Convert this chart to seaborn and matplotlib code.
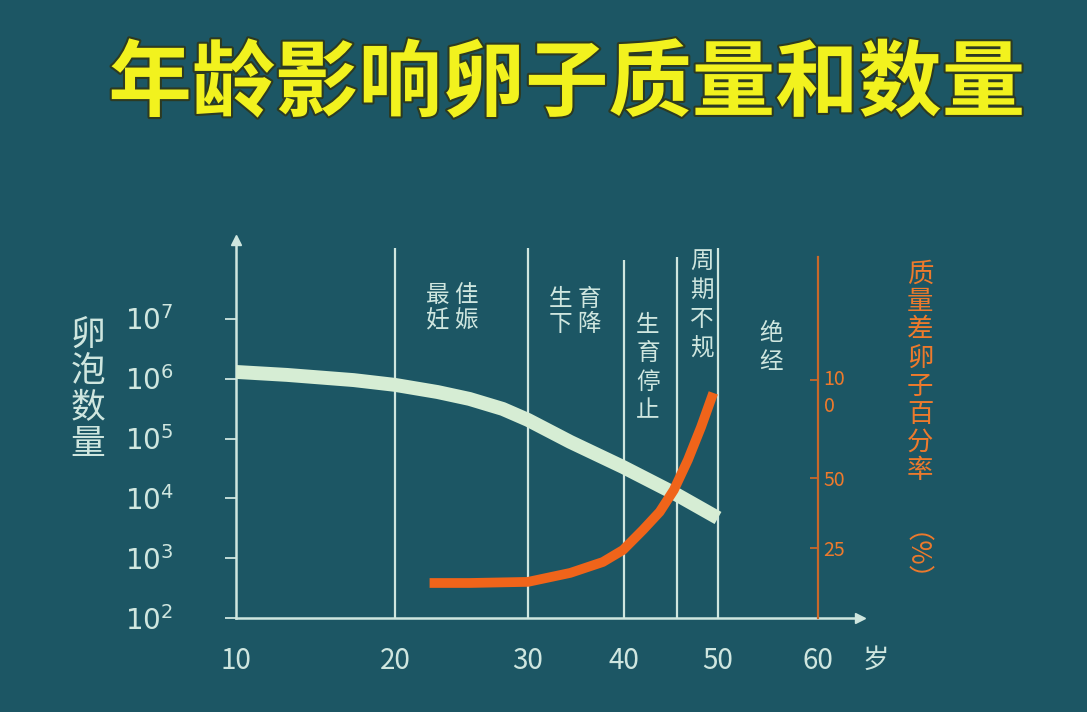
import numpy as np
import pandas as pd
import matplotlib
matplotlib.use("Agg")
import matplotlib.pyplot as plt
import matplotlib.patheffects as pe
import seaborn as sns

# follicle count (left, log axis) by age
follicle_age = [10, 13.2, 17.4, 20, 23.2, 25.6, 28.1, 30, 34.4, 39.9, 45.3, 50]
follicle_count = [1.30e6, 1.16e6, 9.5e5, 7.9e5, 6.0e5, 4.6e5, 3.13e5, 2.05e5,
                  8.8e4, 3.35e4, 1.23e4, 4.7e3]

# percentage of poor-quality eggs (right axis) by age
poor_age = [22.6, 25.6, 30, 34.4, 37.8, 39.9, 42.0, 43.8, 45.3, 46.8, 48.2, 49.5]
poor_pct = [12.5, 12.5, 12.9, 16.1, 20.0, 24.3, 31.4, 37.9, 45.7, 59.2, 76.0, 93.4]

age_ticks = [10, 20, 30, 40, 50, 60]
stage_lines = [20, 30, 40, 45.6, 50]
count_ticks = [1e2, 1e3, 1e4, 1e5, 1e6, 1e7]
count_labels = ["$10^{2}$", "$10^{3}$", "$10^{4}$", "$10^{5}$", "$10^{6}$", "$10^{7}$"]
pct_ticks = [100, 50, 25]
pct_labels = ["10\n0", "50", "25"]

# the original axes are not evenly spaced, so map them piecewise
AGE_KNOTS = [0, 10, 20, 30, 40, 50, 60, 70]
AGE_PIX = [-159, 0, 159, 292, 388, 482, 582, 682]
PCT_KNOTS = [0, 25, 50, 100, 200]
PCT_PIX = [0, 70, 140, 238, 434]


def age_fwd(v):
    return np.interp(v, AGE_KNOTS, AGE_PIX)


def age_inv(v):
    return np.interp(v, AGE_PIX, AGE_KNOTS)


def pct_fwd(v):
    return np.interp(v, PCT_KNOTS, PCT_PIX)


def pct_inv(v):
    return np.interp(v, PCT_PIX, PCT_KNOTS)


BG = "#1c5664"
LIGHT = "#cfe6df"
MINT = "#d6edd4"
ORANGE = "#f0641a"
ORANGE_AX = "#c8682a"
ORANGE_TXT = "#ee7a2c"
YELLOW = "#f2f21e"

sns.set_style("dark", {"axes.facecolor": BG, "figure.facecolor": BG})
plt.rcParams["font.family"] = ["Noto Sans CJK SC", "DejaVu Sans"]
plt.rcParams["mathtext.fontset"] = "dejavusans"
plt.rcParams["axes.unicode_minus"] = False

W, H = 1087, 712
fig = plt.figure(figsize=(W / 100, H / 100), dpi=100)
fig.patch.set_facecolor(BG)

ax = fig.add_axes([236 / W, 94 / H, (860 - 236) / W, (618 - 240) / H])
ax.set_facecolor(BG)
ax.set_xscale("function", functions=(age_fwd, age_inv))
ax.set_yscale("log")
ax.set_xlim(10, 64.2)
ax.set_ylim(1e2, 10 ** 8.32)
ax.grid(False)

follicle_df = pd.DataFrame({"age": follicle_age, "count": follicle_count})
poor_df = pd.DataFrame({"age": poor_age, "pct": poor_pct})

# stage separators
ax.vlines(stage_lines, 1e2, [10 ** 8.18, 10 ** 8.18, 10 ** 7.98, 10 ** 8.03, 10 ** 8.18],
          color=LIGHT, lw=1.6, zorder=1)

sns.lineplot(data=follicle_df, x="age", y="count", ax=ax, color=MINT, lw=10,
             solid_capstyle="butt", solid_joinstyle="round", zorder=3)

for s in ["top", "right"]:
    ax.spines[s].set_visible(False)
for s in ["left", "bottom"]:
    ax.spines[s].set_color(LIGHT)
    ax.spines[s].set_linewidth(1.8)
ax.plot(0, 1, "^", color=LIGHT, ms=7, transform=ax.transAxes, clip_on=False)
ax.plot(1, 0, ">", color=LIGHT, ms=7, transform=ax.transAxes, clip_on=False)

ax.set_xticks(age_ticks)
ax.set_xticklabels([str(a) for a in age_ticks])
ax.set_yticks(count_ticks)
ax.set_yticklabels(count_labels)
ax.minorticks_off()
ax.tick_params(axis="x", length=0, pad=20, labelsize=20, labelcolor=LIGHT)
ax.tick_params(axis="y", direction="out", length=8, width=1.3, color=LIGHT,
               pad=72, labelsize=20, labelcolor=LIGHT)
for lab in ax.get_yticklabels():
    lab.set_horizontalalignment("left")
ax.set_xlabel("")
ax.set_ylabel("")

# right axis: share of poor-quality eggs
ax2 = ax.twinx()
ax2.set_yscale("function", functions=(pct_fwd, pct_inv))
ax2.set_ylim(0, 171.4)
sns.lineplot(data=poor_df, x="age", y="pct", ax=ax2, color=ORANGE, lw=7,
             solid_capstyle="butt", solid_joinstyle="round", zorder=4)
ax2.grid(False)
for s in ["top", "left", "bottom"]:
    ax2.spines[s].set_visible(False)
ax2.spines["right"].set_position(("axes", 582 / 624))
ax2.spines["right"].set_bounds(0, 162.8)
ax2.spines["right"].set_color(ORANGE_AX)
ax2.spines["right"].set_linewidth(1.6)
ax2.set_yticks(pct_ticks)
# the wrapped "10/0" label keeps its first line on the tick
ax2.set_yticklabels([("\n" + t) if "\n" in t else t for t in pct_labels])
ax2.minorticks_off()
ax2.tick_params(axis="y", direction="in", length=6, width=1.3, color=ORANGE_AX,
                pad=4, labelsize=14, labelcolor=ORANGE_TXT)
for lab in ax2.get_yticklabels():
    if "\n" in lab.get_text():
        lab.set_linespacing(1.35)
        lab.set_verticalalignment("center")
ax2.set_xlabel("")
ax2.set_ylabel("")


def ptext(x, y, s, **kw):
    fig.text(x / W, 1 - y / H, s, **kw)


ptext(567, 85, "年龄影响卵子质量和数量", fontsize=60, fontweight="bold", color=YELLOW,
      ha="center", va="center",
      path_effects=[pe.withStroke(linewidth=3, foreground="#2c3a22")])

ptext(88, 390, "卵\n泡\n数\n量", fontsize=25, color=LIGHT, ha="center", va="center",
      linespacing=1.05)
ptext(876, 660, "岁", fontsize=19, color=LIGHT, ha="center", va="center")

ptext(452, 308, "最 佳\n妊 娠", fontsize=17, color=LIGHT, ha="center", va="center",
      linespacing=1.15)
ptext(575, 312, "生 育\n下 降", fontsize=17, color=LIGHT, ha="center", va="center",
      linespacing=1.15)
ptext(648, 368, "生\n育\n停\n止", fontsize=17, color=LIGHT, ha="center", va="center",
      linespacing=1.3)
ptext(702, 305, "周\n期\n不\n规", fontsize=17, color=LIGHT, ha="center", va="center",
      linespacing=1.3)
ptext(771, 348, "绝\n经", fontsize=17, color=LIGHT, ha="center", va="center",
      linespacing=1.3)

ptext(920, 372, "质\n量\n差\n卵\n子\n百\n分\n率", fontsize=19, color=ORANGE_TXT,
      ha="center", va="center", linespacing=1.05)
ptext(900, 570, "（%）", fontsize=19, color=ORANGE_TXT, ha="center", va="center",
      rotation=-90, rotation_mode="anchor")

fig.savefig("out.png", dpi=100, facecolor=BG)
